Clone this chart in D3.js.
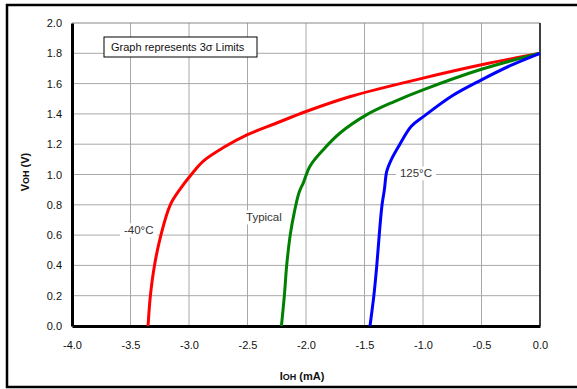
<!DOCTYPE html>
<html>
  <head>
    <meta charset="utf-8">
    <title>VOH vs IOH</title>
    <script src="https://d3js.org/d3.v7.min.js"></script>
    <style>
      body { margin: 0; background: #fff; }
      text { font-family: "Liberation Sans", Arial, sans-serif; }
    </style>
  </head>
  <body>
    <div id="chart"></div>
    <script>
      // curves: IOH (mA) vs VOH (V)
      var iohCold = [-3.35, -3.33, -3.295, -3.24, -3.16, -3.07, -2.98, -2.88, -2.71, -2.5, -2.25, -2.0, -1.62, -1.0, -0.5, 0];
      var vohCold = [0, 0.2, 0.4, 0.6, 0.8, 0.91, 1.0, 1.087, 1.176, 1.263, 1.34, 1.416, 1.515, 1.636, 1.724, 1.8];

      var iohTyp = [-2.21, -2.185, -2.165, -2.135, -2.10, -2.06, -2.023, -1.966, -1.852, -1.709, -1.48, -1.25, -1.0, -0.5, 0];
      var vohTyp = [0, 0.2, 0.4, 0.6, 0.75, 0.88, 0.945, 1.055, 1.164, 1.274, 1.395, 1.48, 1.559, 1.695, 1.8];

      var iohHot = [-1.453, -1.42, -1.395, -1.37, -1.35, -1.33, -1.31, -1.27, -1.2, -1.1, -1.0, -0.75, -0.5, -0.25, 0];
      var vohHot = [0, 0.2, 0.4, 0.64, 0.8, 0.9, 1.02, 1.10, 1.197, 1.318, 1.38, 1.52, 1.625, 1.72, 1.8];

      var seriesNames = ["-40°C", "Typical", "125°C"];
      var seriesColors = ["#ff0000", "#008000", "#0000ff"];
      // where each curve label sits (data units)
      var labelX = [-3.43, -2.36, -1.06];
      var labelY = [0.632, 0.717, 1.007];

      var xTicks = [-4.0, -3.5, -3.0, -2.5, -2.0, -1.5, -1.0, -0.5, 0.0];
      var yTicks = [0.0, 0.2, 0.4, 0.6, 0.8, 1.0, 1.2, 1.4, 1.6, 1.8, 2.0];
      var noteText = "Graph represents 3σ Limits";

      var W = 577, H = 389;
      var margin = {top: 23, right: 37, bottom: 63, left: 72},
          width = W - margin.left - margin.right,
          height = H - margin.top - margin.bottom;

      var svg = d3.select("#chart").append("svg")
        .attr("width", W)
        .attr("height", H);

      // outer frame (runs off the right edge)
      svg.append("rect")
        .attr("x", 7).attr("y", 5)
        .attr("width", 590).attr("height", 382)
        .attr("fill", "none")
        .attr("stroke", "#000")
        .attr("stroke-width", 2.5);

      var g = svg.append("g")
        .attr("transform", "translate(" + margin.left + "," + margin.top + ")");

      var x = d3.scaleLinear().domain([-4, 0]).range([0, width]);
      var y = d3.scaleLinear().domain([0, 2]).range([height, 0]);

      // grid
      g.append("g")
        .selectAll("line")
        .data(xTicks.slice(1, -1))
        .enter().append("line")
        .attr("x1", d => x(d)).attr("x2", d => x(d))
        .attr("y1", 0).attr("y2", height)
        .attr("stroke", "#a8a8a8");
      g.append("g")
        .selectAll("line")
        .data(yTicks.slice(1, -1))
        .enter().append("line")
        .attr("x1", 0).attr("x2", width)
        .attr("y1", d => y(d)).attr("y2", d => y(d))
        .attr("stroke", "#a8a8a8");

      // plot frame: thin top/right, heavy left/bottom
      g.append("line").attr("x1", 0).attr("x2", width).attr("y1", 0).attr("y2", 0)
        .attr("stroke", "#888").attr("stroke-width", 1.2);
      g.append("line").attr("x1", width).attr("x2", width).attr("y1", 0).attr("y2", height)
        .attr("stroke", "#000").attr("stroke-width", 1.5);

      // axes
      var xAxis = g.append("g")
        .attr("transform", "translate(0," + height + ")")
        .call(d3.axisBottom(x).tickValues(xTicks).tickSize(0).tickPadding(15).tickFormat(d3.format(".1f")));
      var yAxis = g.append("g")
        .call(d3.axisLeft(y).tickValues(yTicks).tickSize(0).tickPadding(10).tickFormat(d3.format(".1f")));
      [xAxis, yAxis].forEach(function(a) {
        a.select(".domain").attr("stroke", "#000").attr("stroke-width", 3);
        a.selectAll("text")
          .attr("font-size", 11)
          .attr("fill", "#111")
          .style("font-family", "Liberation Sans, Arial, sans-serif");
      });
      // d3 uses unicode minus; the picture uses a hyphen
      xAxis.selectAll("text").text(d => d3.format(".1f")(d).replace("−", "-"));

      // curves
      var curves = [
        d3.zip(iohCold, vohCold),
        d3.zip(iohTyp, vohTyp),
        d3.zip(iohHot, vohHot)
      ];
      var line = d3.line()
        .x(d => x(d[0]))
        .y(d => y(d[1]))
        .curve(d3.curveCatmullRom.alpha(0.5));

      // curve labels with white backing
      seriesNames.forEach(function(name, i) {
        var lg = g.append("g")
          .attr("transform", "translate(" + x(labelX[i]) + "," + y(labelY[i]) + ")");
        var t = lg.append("text")
          .attr("text-anchor", "middle")
          .attr("dy", "0.35em")
          .attr("font-size", 11.5)
          .attr("fill", "#333")
          .text(name);
        var bb = t.node().getBBox();
        lg.insert("rect", "text")
          .attr("x", bb.x - 4).attr("y", bb.y - 1)
          .attr("width", bb.width + 8).attr("height", bb.height + 2)
          .attr("fill", "#fff");
      });

      g.selectAll(".curve")
        .data(curves)
        .enter().append("path")
        .attr("class", "curve")
        .attr("d", line)
        .attr("fill", "none")
        .attr("stroke", (d, i) => seriesColors[i])
        .attr("stroke-width", 3);

      // note box
      var note = svg.append("g").attr("transform", "translate(104,37)");
      note.append("rect")
        .attr("width", 153).attr("height", 20)
        .attr("fill", "#fff")
        .attr("stroke", "#000")
        .attr("stroke-width", 1);
      note.append("text")
        .attr("x", 7).attr("y", 14)
        .attr("font-size", 11)
        .attr("fill", "#111")
        .text(noteText);

      // axis titles
      var xt = svg.append("text")
        .attr("x", 302).attr("y", 380)
        .attr("text-anchor", "middle")
        .attr("font-size", 11)
        .attr("font-weight", "bold")
        .attr("fill", "#111");
      xt.append("tspan").text("I");
      xt.append("tspan").attr("font-size", 9).text("OH");
      xt.append("tspan").text(" (mA)");

      var yt = svg.append("text")
        .attr("transform", "translate(29,172) rotate(-90)")
        .attr("text-anchor", "middle")
        .attr("font-size", 11)
        .attr("font-weight", "bold")
        .attr("fill", "#111");
      yt.append("tspan").text("V");
      yt.append("tspan").attr("font-size", 9).text("OH");
      yt.append("tspan").text(" (V)");
    </script>
  </body>
</html>
